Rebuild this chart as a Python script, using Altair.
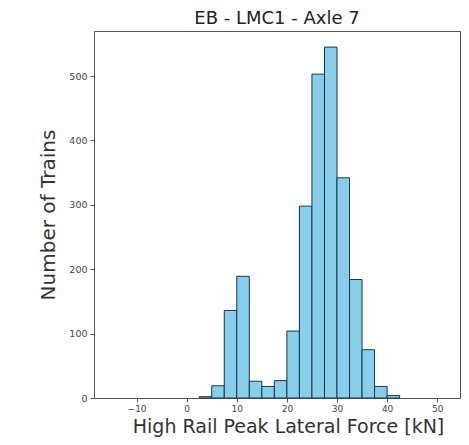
import altair as alt
import pandas as pd

# Histogram bins (kN) and counts
bin_start = [2.5, 5, 7.5, 10, 12.5, 15, 17.5, 20, 22.5, 25, 27.5, 30, 32.5, 35, 37.5, 40]
bin_end = [5, 7.5, 10, 12.5, 15, 17.5, 20, 22.5, 25, 27.5, 30, 32.5, 35, 37.5, 40, 42.5]
counts = [2, 19, 136, 189, 26, 18, 27, 104, 298, 503, 545, 342, 184, 75, 18, 4]

x_ticks = [-10, 0, 10, 20, 30, 40, 50]
y_ticks = [0, 100, 200, 300, 400, 500]

df = pd.DataFrame({"start": bin_start, "end": bin_end, "count": counts})

W, H = 366, 367

bars = alt.Chart(df).mark_bar(
    color="#87CEEB", stroke="#1d3346", strokeWidth=1
).encode(
    x=alt.X("start:Q",
            scale=alt.Scale(domain=[-18.5, 54.55], nice=False, zero=False, padding=0),
            axis=alt.Axis(values=x_ticks, title="High Rail Peak Lateral Force [kN]",
                          titleX=W / 2 + 11, titleY=34.5, titleBaseline="alphabetic",
                          titleAnchor="middle", titleAlign="center",
                          titleFontSize=19, labelFontSize=9, labelPadding=2)),
    x2="end:Q",
    y=alt.Y("count:Q",
            scale=alt.Scale(domain=[0, 570], nice=False, padding=0),
            axis=alt.Axis(values=y_ticks, title="Number of Trains",
                          titleX=-46, titleY=H / 2, titleBaseline="middle",
                          titleAlign="center", titleAngle=270)),
    y2=alt.datum(0),
)

chart = bars.properties(
    width=W, height=H,
    title=alt.TitleParams("EB - LMC1 - Axle 7", fontSize=18, font="DejaVu Sans",
                          fontWeight="normal", color="#222", offset=-11,
                          baseline="alphabetic", anchor="middle"),
    autosize=alt.AutoSizeParams(type="none"),
    padding={"left": 86, "top": 23, "right": 1, "bottom": 39},
).configure_view(
    stroke="#555", strokeWidth=1
).configure_axis(
    grid=False, domain=False,
    tickColor="#555", tickSize=4, tickWidth=1,
    labelFont="DejaVu Sans", labelFontSize=9.5, labelColor="#444", labelPadding=3,
    titleFont="DejaVu Sans", titleFontSize=20, titleFontWeight="normal", titleColor="#333",
)

chart.save("out.html", embed_options={"renderer": "svg", "actions": False})
